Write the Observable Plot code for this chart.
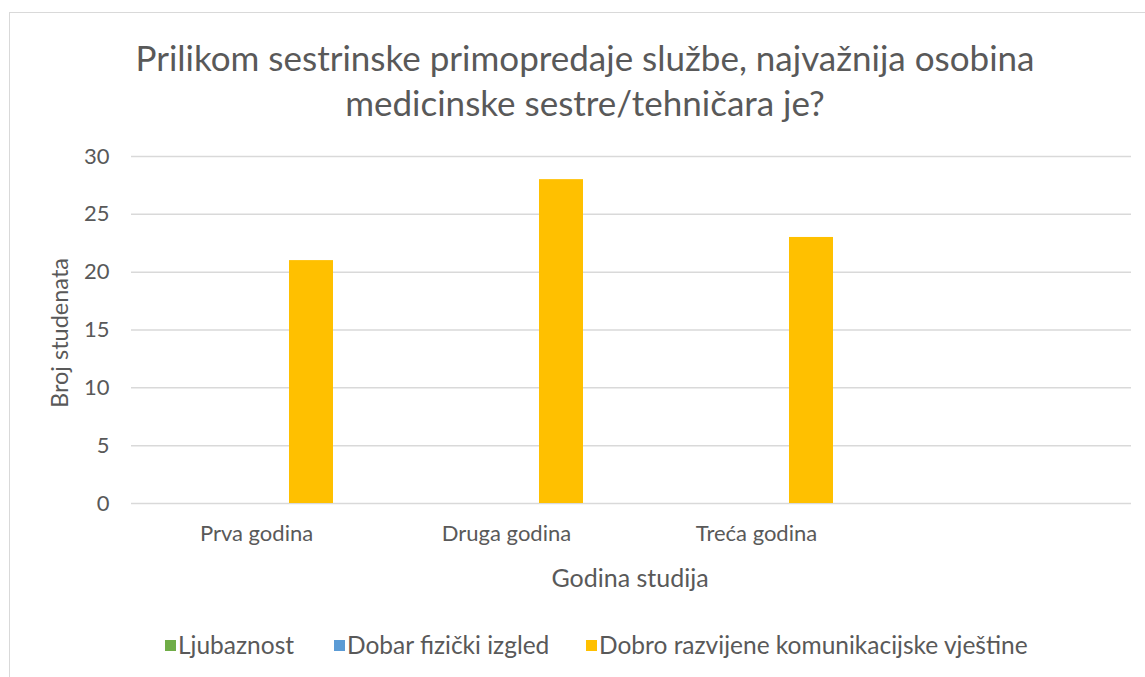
<!DOCTYPE html>
<html>
<head>
<meta charset="utf-8">
<script src="https://cdn.jsdelivr.net/npm/d3@7"></script>
<script src="https://cdn.jsdelivr.net/npm/@observablehq/plot@0.6"></script>
<style>
  html, body { margin: 0; padding: 0; background: #fff; overflow: hidden; }
  body { width: 1145px; height: 677px; position: relative; font-family: Lato, "Open Sans", sans-serif; color: #595959; }
  #frame { position: absolute; left: 9px; top: 12px; width: 1152px; height: 700px; border: 1.5px solid #d9d9d9; box-sizing: border-box; }
  #title { position: absolute; left: 0; width: 1170px; top: 35px; text-align: center; font-size: 35px; line-height: 45px; color: #595959; }
  #chart { position: absolute; left: 0; top: 140px; }
  #xlabel { position: absolute; left: 430px; width: 400px; top: 562px; text-align: center; font-size: 25px; line-height: 30px; }
  #ylabel { position: absolute; left: 59px; top: 333px; width: 300px; margin-left: -150px; margin-top: -15px; text-align: center; font-size: 23.5px; line-height: 30px; transform: rotate(-90deg); }
  #legend { position: absolute; top: 631px; left: 0; width: 1145px; height: 28px; }
  .li { position: absolute; top: 0; display: flex; align-items: center; font-size: 24.5px; line-height: 28px; color: #595959; white-space: nowrap; }
  .sw { width: 11px; height: 11px; margin-right: 2px; }
</style>
</head>
<body>
<div id="frame"></div>
<div id="title">Prilikom sestrinske primopredaje službe, najvažnija osobina<br>medicinske sestre/tehničara je?</div>
<div id="chart"></div>
<div id="xlabel">Godina studija</div>
<div id="ylabel">Broj studenata</div>
<div id="legend"></div>
<script>
const categories = ["Prva godina", "Druga godina", "Treća godina", ""];
const seriesNames = ["Ljubaznost", "Dobar fizički izgled", "Dobro razvijene komunikacijske vještine"];
const seriesColors = ["#70ad47", "#5b9bd5", "#ffc000"];
const ljubaznost = [0, 0, 0, null];
const dobarIzgled = [0, 0, 0, null];
const komunikacija = [21, 28, 23, null];
const yTicks = [0, 5, 10, 15, 20, 25, 30];

const seriesValues = [ljubaznost, dobarIzgled, komunikacija];
const data = [];
categories.forEach((cat, i) => {
  seriesNames.forEach((s, j) => data.push({ year: cat, series: s, value: seriesValues[j][i] }));
});

const chart = Plot.plot({
  width: 1145,
  height: 460,
  marginLeft: 129,
  marginRight: 13,
  marginTop: 16,
  marginBottom: 97,
  style: { fontFamily: "Lato, 'Open Sans', sans-serif", fontSize: "22px", color: "#595959", background: "transparent" },
  fx: { domain: categories, padding: 0 },
  x: { domain: seriesNames, paddingInner: 0.207, paddingOuter: 0.862 },
  y: { domain: [0, 30] },
  color: { domain: seriesNames, range: seriesColors },
  marks: [
    Plot.gridY(yTicks, { stroke: "#d9d9d9", strokeOpacity: 1, strokeWidth: 1.5 }),
    Plot.barY(data, { fx: "year", x: "series", y: "value", fill: "series" }),
    Plot.axisY(yTicks, { tickSize: 0, tickPadding: 22, fontSize: 22, label: null, fill: "#595959" }),
    Plot.axisX({ ticks: [], label: null }),
    Plot.axisFx({ anchor: "bottom", tickSize: 0, tickPadding: 22, fontSize: 22, label: null, fill: "#595959" })
  ]
});
document.getElementById("chart").appendChild(chart);

const legend = document.getElementById("legend");
const legendX = [165, 334, 586];
seriesNames.forEach((s, i) => {
  const item = document.createElement("div");
  item.className = "li";
  item.style.left = legendX[i] + "px";
  const sw = document.createElement("span");
  sw.className = "sw";
  sw.style.background = seriesColors[i];
  item.appendChild(sw);
  item.appendChild(document.createTextNode(s));
  legend.appendChild(item);
});
</script>
</body>
</html>
